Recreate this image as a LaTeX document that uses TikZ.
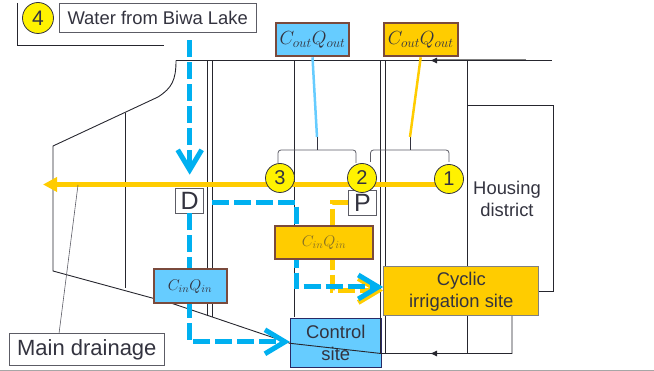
\documentclass[tikz,border=0pt]{standalone}
\usepackage{fix-cm}
\usepackage{fontspec}
\setmainfont{Liberation Sans}
\usetikzlibrary{arrows.meta}
\definecolor{inkdark}{HTML}{33333F}
\definecolor{wallblack}{HTML}{26262E}
\definecolor{flowblue}{HTML}{00B0F0}
\definecolor{boxblue}{HTML}{66CCFF}
\definecolor{boxyellow}{HTML}{FFCC00}
\definecolor{boxbrown}{HTML}{7A4A3C}
\begin{document}
\begin{tikzpicture}[
    x=1pt, y=-1pt,
    text=inkdark,
    label/.style={
        rectangle, draw=inkdark!80, line width=0.8pt, fill=white,
        align=center, inner sep=0pt, font=\fontsize{18.4}{22}\selectfont
    },
    site/.style={
        rectangle, align=center, inner sep=0pt, line width=1pt,
        font=\fontsize{18.4}{22}\selectfont
    },
    quant/.style={
        rectangle, draw=boxbrown, line width=2pt, inner sep=0pt,
        font=\fontsize{19}{22}\selectfont
    },
    quantin/.style={
        quant, font=\fontsize{15.5}{18}\selectfont
    },
    num/.style={
        circle, draw=inkdark, line width=0.8pt, fill=yellow,
        minimum size=29pt, inner sep=0pt, font=\fontsize{20}{24}\selectfont
    },
    wall/.style={draw=wallblack, line width=0.9pt},
    brace/.style={draw=inkdark!80, line width=0.8pt, rounded corners=3pt},
    flow/.style={
        line width=5pt, dash pattern=on 17pt off 5pt,
        -{Straight Barb[length=20pt,width=24pt,line width=5pt]}
    },
]

    % ---------- Bounds ----------
    \useasboundingbox (0,0) rectangle (654,371);
    \draw[gray!70, line width=0.8pt] (0,370.3) -- (654,370.3);

    % ---------- Control site sits under the plan lines ----------
    \node[site, fill=boxblue, draw=inkdark!80!blue, minimum width=91pt, minimum height=49pt] (control) at (335.8,342.8) {Control\\site};

    % ---------- Plan ----------
    \draw[wall] (17,3) -- (17,45) -- (164,45);
    \draw[wall] (176,60.5) .. controls (176,80) and (172,88) .. (158,97) -- (53,146) -- (53,271)
        -- (173,303.7) -- (290,343.3) -- (381,353.5) -- (512,353.5) -- (512,315);
    \draw[wall] (176,60.5) -- (552,60.5);
    \draw[wall] (125.5,113) -- (125.5,288);
    \draw[wall] (207.5,60.5) -- (207.5,316);
    \draw[wall] (212.5,60.5) -- (212.5,317);
    \draw[wall] (294.5,60.5) -- (294.5,317);
    \draw[wall] (380.5,60.5) -- (380.5,353.5);
    \draw[wall] (385.5,60.5) -- (385.5,353.5);
    \draw[wall] (467.5,60.5) -- (467.5,353.5);
    \draw[wall] (467.5,105.5) rectangle (553.7,291.5);
    \draw[gray, line width=0.8pt] (526,59.8) -- (434,59.8);
    \draw[wall, -{Latex[length=7pt,width=6pt]}] (480,60.5) -- (430,60.5);
    \draw[wall, -{Latex[length=7pt,width=6pt]}] (480,353.5) -- (430,353.5);

    % ---------- Main drainage ----------
    \node[label, minimum width=155.7pt, minimum height=31.6pt, font=\fontsize{22}{26}\selectfont] (drainage) at (86.8,349.5) {Main drainage};
    \coordinate (main-start) at (462,184.5);
    \coordinate (main-end) at (43,184.5);
    \coordinate (drainage-point) at (78,185);
    \draw[line width=5pt, boxyellow, -{Triangle[length=14pt,width=14pt]}] (main-start) -- (main-end);
    \draw[inkdark!80, line width=0.6pt] (59,333.7) -- (drainage-point);

    % ---------- Labels and sites ----------
    \node[label, minimum width=197.5pt, minimum height=29.5pt] (water) at (157.7,18) {Water from Biwa Lake};
    \node[num, font=\fontsize{21}{25}\selectfont, minimum size=31pt] (four) at (38,18) {4};
    \node[label, minimum width=28pt, minimum height=25pt, font=\fontsize{25}{30}\selectfont] (D) at (189.7,200.6) {D};
    \node[label, minimum width=28.5pt, minimum height=25pt, font=\fontsize{25}{30}\selectfont] (P) at (362.5,202.5) {P};
    \node[site, fill=boxyellow, draw=gray, minimum width=155.3pt, minimum height=49pt] (cyclic) at (461.3,291.5) {Cyclic\\irrigation site};
    \node[site] (housing) at (507,199) {Housing\\district};

    % ---------- Flows ----------
    \coordinate (yellow-bend) at (332,290.5);
    \coordinate (blue-bend) at (296,287);
    \draw[flow, boxyellow] (P.west) -| (yellow-bend) -- (cyclic.west |- yellow-bend);
    \draw[flow, flowblue, shorten <=8pt] ([yshift=-2pt]D.east) -| (blue-bend) -- (cyclic.west |- blue-bend);
    \draw[flow, flowblue, shorten <=7pt, shorten >=13pt] (water.south -| D.north) -- (D.north);
    \draw[flow, flowblue] (D.south) |- ([yshift=1pt]control.west);

    % ---------- Quantities ----------
    \node[quant, fill=boxblue, minimum width=73pt, minimum height=33pt] (cout) at (312.5,39.8) {$C_{out}Q_{out}$};
    \node[quant, fill=boxyellow, minimum width=74pt, minimum height=33pt] (cvul) at (420.7,39.8) {$C_{out}Q_{out}$};
    \node[quantin, fill=boxyellow, minimum width=98pt, minimum height=33pt] (cin-yellow) at (324,242.5) {\textcolor{inkdark!60!boxyellow}{$C_{in}Q_{in}$}};
    \node[quantin, fill=boxblue, minimum width=73pt, minimum height=34pt] (cin-blue) at (190,286.5) {$C_{in}Q_{in}$};

    % ---------- Sections ----------
    \node[num] (three) at (280,178) {3};
    \node[num] (two) at (362,178) {2};
    \node[num] (one) at (449,179) {1};
    \coordinate (left-tip) at (317,137);
    \coordinate (right-tip) at (410,137);
    \draw[brace] (278,163) -- (278,150) -- (356,150) -- (356,163);
    \draw[brace] (370.5,162) -- (370.5,150) -- (449,150) -- (449,162);
    \draw[inkdark, line width=1pt] (317,150) -- (left-tip);
    \draw[inkdark, line width=1pt] (410,150) -- (right-tip);
    \draw[boxblue, line width=2.5pt] (cout.south) -- (left-tip);
    \draw[boxyellow, line width=2.5pt] (cvul.south) -- (right-tip);

\end{tikzpicture}
\end{document}
